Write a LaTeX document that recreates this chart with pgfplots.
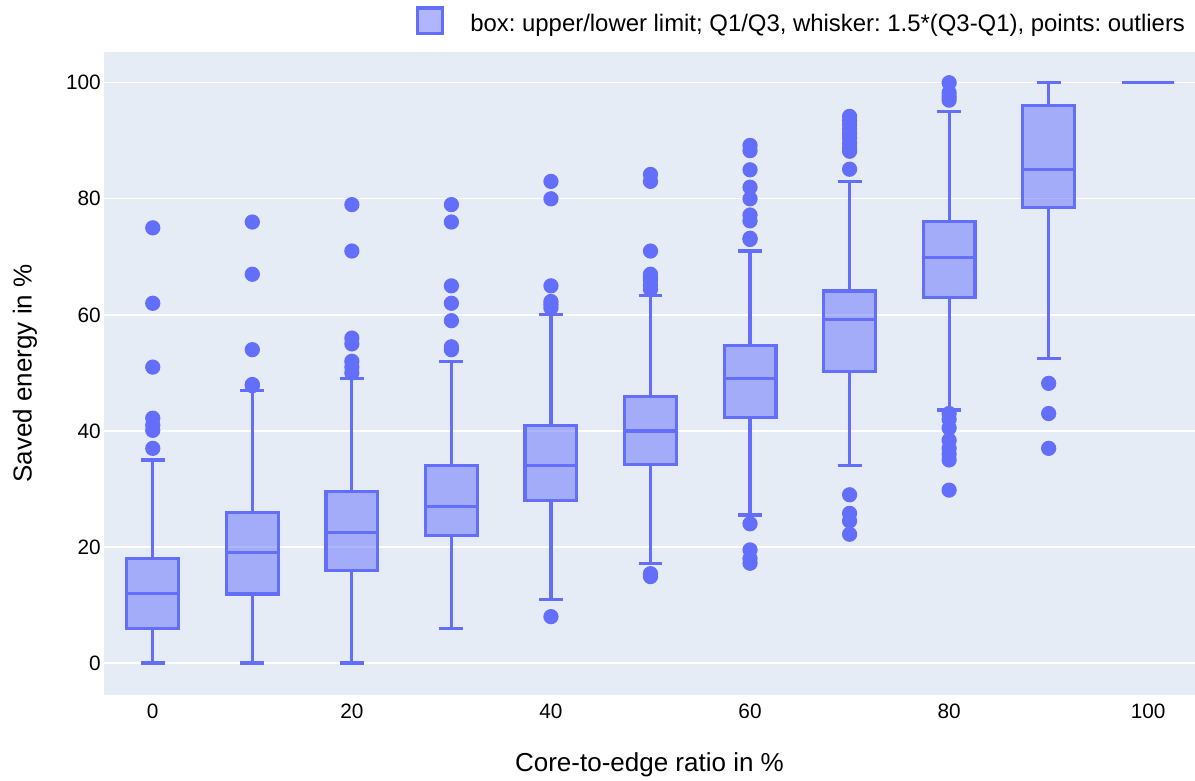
\documentclass[border=0pt]{standalone}
\usepackage{pgfplots}
\pgfplotsset{compat=1.18}
\usepgfplotslibrary{statistics}
\usepackage{fontspec}
\setmainfont{Liberation Sans}
\frenchspacing
\definecolor{pc}{HTML}{636EFA}
\definecolor{bgc}{HTML}{E5ECF6}
\definecolor{tc}{HTML}{000000}
\begin{document}
\begin{tikzpicture}
\path[use as bounding box] (-104pt,-86pt) rectangle (1091pt,695pt);
\begin{axis}[
  scale only axis,
  width=1091pt, height=643pt,
  xmin=-4.9, xmax=104.7,
  ymin=-5.5, ymax=105.3,
  axis background/.style={fill=bgc},
  axis line style={draw=none},
  major tick length=0pt,
  xtick={0,20,40,60,80,100},
  ytick={20,40,60,80,100},
  extra y ticks={0},
  extra y tick labels={0},
  extra y tick style={grid style={white, line width=2.6pt}},
  ymajorgrids,
  grid style={white, line width=1.3pt},
  /pgf/number format/assume math mode=true,
  tick label style={font=\fontsize{20.8}{24}\selectfont, text=tc, inner sep=0pt},
  xticklabel style={anchor=north, yshift=-8.5pt},
  yticklabel style={anchor=east, xshift=-3pt},
  xlabel={Core-to-edge ratio in \%},
  ylabel={Saved energy in \%},
  label style={font=\fontsize{26}{30}\selectfont, text=tc, inner sep=0pt},
  xlabel style={at={(axis description cs:0.5,-0.1081)}, anchor=center},
  ylabel style={at={(axis description cs:-0.0724,0.5)}, anchor=center},
  legend style={at={(1,1)}, anchor=south east, xshift=-10pt, yshift=17pt, draw=none, fill=none,
    font=\fontsize{23.9}{27}\selectfont, inner sep=0pt, outer sep=0pt,
    nodes={inner sep=0pt, text=tc}, column sep=0pt},
  legend cell align=left,
  boxplot/box extend=5.2,
  boxplot/whisker extend=2.4,
  boxplot/every box/.style={draw=pc, fill=pc, fill opacity=0.5, line width=3.2pt},
  boxplot/every median/.style={draw=pc, line width=3.2pt},
  boxplot/every whisker/.style={draw=pc, line width=3.2pt},
  bp/.style={boxplot/draw direction=y, draw=pc, line width=3.2pt, mark=*, mark size=6pt,
    mark options={solid, draw=none, fill=pc, fill opacity=1}},
]
\addlegendimage{legend image code/.code={\path (0pt,0pt) (55pt,0pt); \draw[draw=pc, fill=pc, fill opacity=0.5, line width=3.2pt] (2.6pt,-10.1pt) rectangle (27.4pt,15.3pt);}}
\addlegendentry{box: upper/lower limit; Q1/Q3, whisker: 1.5*(Q3-Q1), points: outliers}

\addplot[bp, forget plot, boxplot prepared={draw position=0, lower whisker=0, lower quartile=6, median=12, upper quartile=18, upper whisker=35}]
  coordinates {(0,75) (0,62) (0,51) (0,42.2) (0,41) (0,40.1) (0,37)};
\addplot[bp, forget plot, boxplot prepared={draw position=10, lower whisker=0, lower quartile=11.9, median=19, upper quartile=26, upper whisker=47}]
  coordinates {(0,76) (0,67) (0,54) (0,48) (0,47.8)};
\addplot[bp, forget plot, boxplot prepared={draw position=20, lower whisker=0, lower quartile=16, median=22.5, upper quartile=29.5, upper whisker=49}]
  coordinates {(0,79) (0,71) (0,56) (0,55) (0,52) (0,51) (0,50)};
\addplot[bp, forget plot, boxplot prepared={draw position=30, lower whisker=6, lower quartile=22, median=27, upper quartile=34, upper whisker=52}]
  coordinates {(0,79) (0,76) (0,65) (0,62) (0,59) (0,54.5) (0,54)};
\addplot[bp, forget plot, boxplot prepared={draw position=40, lower whisker=11, lower quartile=28, median=34, upper quartile=41, upper whisker=60}]
  coordinates {(0,83) (0,80) (0,65) (0,62.3) (0,61.8) (0,61.2) (0,8)};
\addplot[bp, forget plot, boxplot prepared={draw position=50, lower whisker=17.2, lower quartile=34.2, median=40, upper quartile=46, upper whisker=63.4}]
  coordinates {(0,84.2) (0,83) (0,71) (0,67) (0,66.5) (0,66) (0,65.2) (0,64.4) (0,15.4) (0,14.9)};
\addplot[bp, forget plot, boxplot prepared={draw position=60, lower whisker=25.5, lower quartile=42.3, median=49, upper quartile=54.7, upper whisker=71}]
  coordinates {(0,89.2) (0,88.3) (0,85) (0,82) (0,80) (0,77.2) (0,76.2) (0,73.2) (0,73) (0,24) (0,19.5) (0,18) (0,17.2)};
\addplot[bp, forget plot, boxplot prepared={draw position=70, lower whisker=34, lower quartile=50.2, median=59.2, upper quartile=64.1, upper whisker=83}]
  coordinates {(0,94.2) (0,93.5) (0,92.8) (0,92) (0,91.2) (0,90.5) (0,89.6) (0,88.8) (0,88.2) (0,85.1) (0,29) (0,25.8) (0,24.5) (0,22.2)};
\addplot[bp, forget plot, boxplot prepared={draw position=80, lower whisker=43.6, lower quartile=63, median=69.9, upper quartile=76.1, upper whisker=95.1}]
  coordinates {(0,100) (0,98.3) (0,97.6) (0,97) (0,43) (0,42) (0,40.5) (0,38.4) (0,37) (0,36) (0,35) (0,29.8)};
\addplot[bp, forget plot, boxplot prepared={draw position=90, lower whisker=52.5, lower quartile=78.5, median=85, upper quartile=96.1, upper whisker=100}]
  coordinates {(0,48.2) (0,43) (0,37)};
\addplot[bp, forget plot, boxplot prepared={draw position=100, lower whisker=100, lower quartile=100, median=100, upper quartile=100, upper whisker=100}]
  coordinates {};
\end{axis}
\end{tikzpicture}
\end{document}
